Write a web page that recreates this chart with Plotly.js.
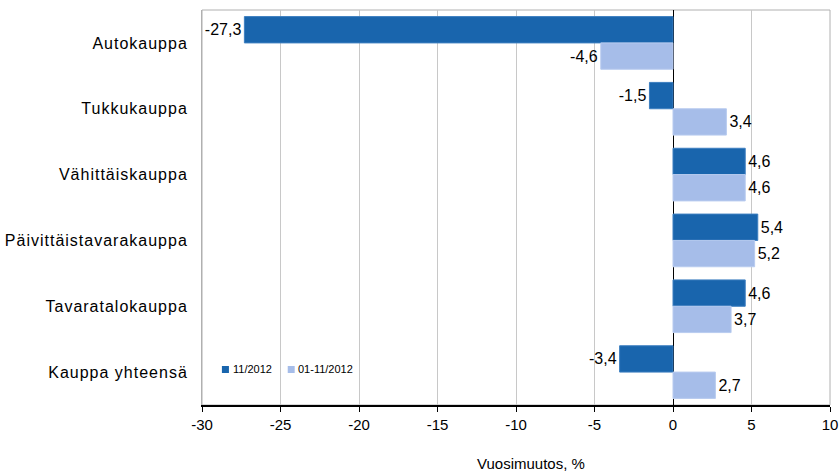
<!DOCTYPE html>
<html><head><meta charset="utf-8">
<script src="https://cdn.plot.ly/plotly-3.0.1.min.js"></script>
<style>html,body{margin:0;padding:0;background:#fff}#chart{width:839px;height:473px}
.ytick text{letter-spacing:1px}</style>
</head><body><div id="chart"></div>
<script>
const categories = ["Autokauppa","Tukkukauppa","Vähittäiskauppa","Päivittäistavarakauppa","Tavaratalokauppa","Kauppa yhteensä"];
const seriesNames = ["11/2012","01-11/2012"];
const seriesColors = ['#1965ad','#a6bde9'];
const month = [-27.3,-1.5,4.6,5.4,4.6,-3.4];
const cumulative = [-4.6,3.4,4.6,5.2,3.7,2.7];
const tickVals = [-30,-25,-20,-15,-10,-5,0,5,10];
const tickLabels = ["-30","-25","-20","-15","-10","-5","0","5","10"];
const FAM = "Liberation Sans, Arial, sans-serif";
const fmt = v => v.toFixed(1).replace('.', ',');
const mk = (vals, name, color, edge) => ({
  type:'bar', orientation:'h', x:vals, y:categories, name:name,
  marker:{color:color, line:{color:edge, width:1}},
  text: vals.map(fmt), textposition:'outside', cliponaxis:false,
  textfont:{family:FAM, size:16, color:'#000'}, hoverinfo:'none'
});
const data = [
  mk(month, seriesNames[0], seriesColors[0], '#3d7fc0'),
  mk(cumulative, seriesNames[1], seriesColors[1], '#b8cbef')
];
const lf = {family:FAM, size:11, color:'#000'};
const layout = {
  width:839, height:473,
  margin:{l:202, r:9, t:10, b:68},
  paper_bgcolor:'#fff', plot_bgcolor:'#fff',
  font:{family:FAM, size:14, color:'#000'},
  barmode:'group', bargap:0.2, bargroupgap:0,
  showlegend:false,
  xaxis:{range:[-30,10], tickvals:tickVals, ticktext:tickLabels,
    showgrid:true, gridcolor:'#c8c8c8', gridwidth:1,
    zeroline:true, zerolinecolor:'#000', zerolinewidth:1,
    showline:true, linecolor:'#000', linewidth:1.5,
    ticks:'outside', ticklen:5, tickcolor:'#000',
    ticklabeloverflow:'allow',
    tickfont:{family:FAM, size:15, color:'#000'}, fixedrange:true},
  yaxis:{autorange:'reversed', showgrid:false, zeroline:false,
    showline:true, linecolor:'#b0b0b0', linewidth:1,
    ticks:'', ticklabelstandoff:10, tickfont:{family:FAM, size:16, color:'#000'}, fixedrange:true},
  shapes:[
    {type:'rect', xref:'paper', yref:'paper', x0:0, x1:1, y0:0, y1:1, line:{color:'#b0b0b0', width:1}, layer:'below'},
    {type:'rect', xref:'paper', yref:'paper', x0:0.0317, x1:0.0429, y0:0.081, y1:0.0987, fillcolor:seriesColors[0], line:{width:0}},
    {type:'rect', xref:'paper', yref:'paper', x0:0.1365, x1:0.1476, y0:0.081, y1:0.0987, fillcolor:seriesColors[1], line:{width:0}}
  ],
  annotations:[
    {text:seriesNames[0], xref:'paper', yref:'paper', x:0.046, y:0.0899, xanchor:'left', yanchor:'middle', showarrow:false, font:lf},
    {text:seriesNames[1], xref:'paper', yref:'paper', x:0.149, y:0.0899, xanchor:'left', yanchor:'middle', showarrow:false, font:lf},
    {text:'Vuosimuutos, %', xref:'paper', yref:'paper', x:0.524, y:-0.147, xanchor:'center', yanchor:'middle', showarrow:false, font:{family:FAM, size:15, color:'#000'}}
  ]
};
Plotly.newPlot('chart', data, layout, {displayModeBar:false, staticPlot:true});
</script></body></html>
